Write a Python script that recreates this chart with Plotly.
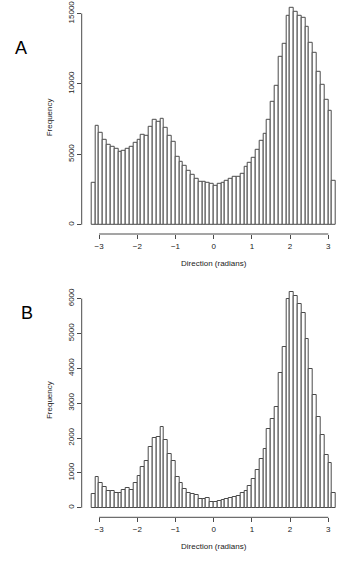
import numpy as np
import plotly.graph_objects as go

# histogram breaks: 0.1 rad bins from -3.2 to 3.2 (R hist default)
breaks = np.round(np.arange(-3.2, 3.2001, 0.1), 1)
centers = (breaks[:-1] + breaks[1:]) / 2

counts_a = [3000, 7000, 6500, 6000, 5680, 5560, 5400, 5200, 5250, 5380,
            5500, 5800, 6060, 6400, 6350, 6950, 7440, 7280, 7540, 6850,
            6320, 5880, 4800, 4500, 4150, 3830, 3520, 3260, 3060, 3040,
            2970, 2920, 2780, 2880, 2960, 3140, 3280, 3370, 3420, 3600,
            4100, 4400, 4780, 5330, 5940, 6490, 7480, 8750, 9900, 11890,
            12830, 14840, 15400, 15130, 14850, 14720, 14060, 12930, 12180, 10870,
            9970, 8900, 8080, 3150]

counts_b = [390, 890, 720, 585, 490, 490, 410, 430, 510, 555,
            510, 700, 920, 1180, 1340, 1750, 1990, 2040, 2310, 1940,
            1540, 1340, 890, 700, 540, 430, 395, 355, 240, 250,
            290, 175, 175, 200, 220, 250, 270, 300, 345, 430,
            480, 630, 820, 1080, 1390, 1680, 2260, 2550, 2900, 3870,
            4620, 5990, 6200, 6070, 5840, 5580, 4840, 3990, 3230, 2610,
            2090, 1510, 1270, 430]

x_ticks = [-3, -2, -1, 0, 1, 2, 3]
y_ticks_a = [0, 5000, 10000, 15000]
y_ticks_b = [0, 1000, 2000, 3000, 4000, 5000, 6000]
panel_labels = ["A", "B"]

W, H = 350, 564


def fx(p):
    return p / W


def fy(p):
    return 1 - p / H


font = "Liberation Sans, Arial, sans-serif"
ink = "#4a4a4a"
txt = "#222"

fig = go.Figure()
fig.add_trace(go.Bar(x=centers, y=counts_a, width=0.1, xaxis="x", yaxis="y",
                     marker=dict(color="white", line=dict(color=ink, width=1))))
fig.add_trace(go.Bar(x=centers, y=counts_b, width=0.1, xaxis="x2", yaxis="y2",
                     marker=dict(color="white", line=dict(color=ink, width=1))))

common_x = dict(range=[-3.456, 3.456], tickvals=x_ticks, ticks="outside", ticklen=4,
                tickcolor=ink, showgrid=False, zeroline=False, showline=False,
                tickfont=dict(size=8, color=txt, family=font),
                domain=[fx(81.7), fx(345.7)], automargin=False,
                title=dict(text="Direction (radians)", standoff=10,
                           font=dict(size=8, color=txt, family=font)))
common_y = dict(tickangle=-90, ticks="outside", ticklen=4, tickcolor=ink,
                tickformat="d", showgrid=False, zeroline=False, showline=False,
                automargin=False, ticklabeloverflow="allow",
                tickfont=dict(size=8, color=txt, family=font),
                title=dict(text="Frequency", standoff=12,
                           font=dict(size=8, color=txt, family=font)))

fig.update_layout(
    width=W, height=H,
    margin=dict(l=0, r=0, t=0, b=0),
    paper_bgcolor="white", plot_bgcolor="white",
    showlegend=False, bargap=0, hovermode=False,
    xaxis=dict(common_x, anchor="y"),
    xaxis2=dict(common_x, anchor="y2"),
    yaxis=dict(common_y, anchor="x", range=[-660, 15902], tickvals=y_ticks_a,
               domain=[fy(234), fy(0.8)]),
    yaxis2=dict(common_y, anchor="x2", range=[-275, 6448], tickvals=y_ticks_b,
                domain=[fy(517.3), fy(283)]),
)

# R-style axis lines that only span the first..last tick
for xa, ya, yt in [("x", "y", y_ticks_a), ("x2", "y2", y_ticks_b)]:
    fig.add_shape(type="line", xref=xa, yref=ya + " domain",
                  x0=x_ticks[0], x1=x_ticks[-1], y0=0, y1=0,
                  line=dict(color=ink, width=1))
    fig.add_shape(type="line", xref=xa + " domain", yref=ya,
                  x0=0, x1=0, y0=yt[0], y1=yt[-1],
                  line=dict(color=ink, width=1))

fig.add_annotation(text=panel_labels[0], xref="paper", yref="paper",
                   x=fx(13), y=fy(36), showarrow=False,
                   font=dict(size=18, color="black", family=font))
fig.add_annotation(text=panel_labels[1], xref="paper", yref="paper",
                   x=fx(19), y=fy(313), showarrow=False,
                   font=dict(size=18, color="black", family=font))

# drop the browser's default 8px body margin so the figure fills the window
fig.write_html("out.html", config=dict(displayModeBar=False),
               post_script="document.body.style.margin='0';")
